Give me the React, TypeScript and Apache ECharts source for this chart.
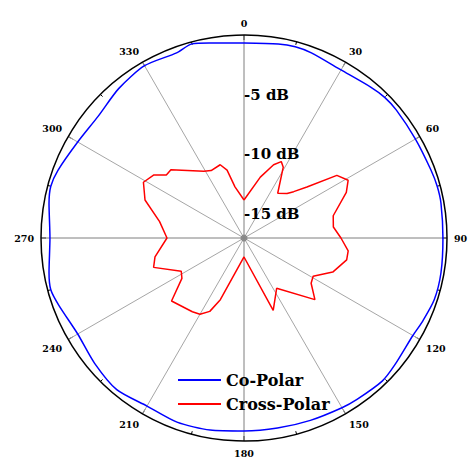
import React, { useEffect, useRef } from "react";
import * as echarts from "echarts";

// Radiation pattern, angle in degrees (clockwise from top), level in dB
const coPolarAngles = [
  0, 10, 15, 20, 30, 40, 45, 50, 60, 70, 75, 80, 90, 100, 108, 115, 120, 130, 136, 145, 150,
  160, 170, 180, 190, 200, 210, 220, 230, 240, 250, 255, 260, 270, 280, 285, 290, 300, 310,
  320, 330, 340, 345, 350, 360,
];
const coPolarDb = [
  -0.67, -0.5, -0.42, -0.5, -0.75, -0.5, -0.34, -0.34, -0.42, -0.34, -0.25, -0.25, -0.34,
  -0.25, -0.25, -0.5, -0.67, -0.5, -0.34, -0.5, -0.59, -0.75, -0.84, -0.84, -0.67, -0.59,
  -0.75, -0.42, -0.67, -0.92, -0.5, -0.25, -0.42, -0.75, -0.42, -0.25, -0.42, -0.92, -1.09,
  -0.67, -0.34, -0.5, -0.17, -0.42, -0.67,
];

const crossPolarAngles = [
  0, 15, 22, 26, 29, 37, 44, 47, 51, 56, 61, 66, 76, 83, 90, 97, 102, 111, 119, 124, 131, 147,
  158, 180, 201, 205, 210, 215, 229, 237, 242, 252, 258, 270, 281, 291, 299, 305, 309, 313,
  329, 334, 342, 346, 350, 360,
];
const crossPolarDb = [
  -13.82, -11.72, -10.38, -9.88, -10.22, -12.31, -11.81, -11.31, -10.22, -7.62, -7.03, -7.62,
  -9.3, -9.46, -8.88, -8.21, -8.21, -9.04, -10.38, -10.22, -9.13, -11.98, -10.47, -15.41,
  -11.47, -10.22, -9.63, -9.46, -8.96, -10.8, -11.05, -9.04, -9.38, -10.55, -9.8, -8.12,
  -7.37, -7.79, -8.63, -8.63, -10.47, -10.72, -10.55, -11.14, -12.65, -13.82,
];

// Radial scale and the levels that get a label
const radiusMin = -17;
const radiusMax = 0;
const radiusLabels = [-5, -10, -15];

const serif = "DejaVu Serif";

export default function App() {
  const ref = useRef<HTMLDivElement>(null);

  useEffect(() => {
    if (!ref.current) return;
    const chart = echarts.init(ref.current, undefined, { renderer: "svg" });

    const pairs = (angles: number[], values: number[]) =>
      angles.map((a, i) => [values[i], a]);

    chart.setOption({
      animation: false,
      backgroundColor: "#ffffff",
      polar: { center: [244, 238], radius: 203 },
      angleAxis: {
        type: "value",
        min: 0,
        max: 360,
        interval: 30,
        startAngle: 90,
        clockwise: true,
        axisLine: { lineStyle: { color: "#000000", width: 1.5 } },
        axisTick: { show: true, inside: true, length: 5, lineStyle: { color: "#000000" } },
        minorTick: { show: true, splitNumber: 2, length: 3, lineStyle: { color: "#000000" } },
        axisLabel: {
          margin: 7,
          color: "#000000",
          fontFamily: serif,
          fontWeight: "bold",
          fontSize: 9.5,
        },
        splitLine: {
          show: true,
          lineStyle: { color: ["#7f7f7f", "#a6a6a6", "#a6a6a6"], width: 1 },
        },
      },
      radiusAxis: {
        type: "value",
        min: radiusMin,
        max: radiusMax,
        interval: 1,
        axisLine: { show: false },
        axisTick: { show: false },
        splitLine: { show: false },
        axisLabel: {
          color: "#000000",
          fontFamily: serif,
          fontWeight: "bold",
          fontSize: 15,
          align: "left",
          margin: 0,
          formatter: (v: number) => (radiusLabels.includes(v) ? `${v} dB` : ""),
        },
      },
      legend: {
        data: ["Co-Polar", "Cross-Polar"],
        orient: "vertical",
        left: 172,
        top: 367,
        itemWidth: 43,
        itemHeight: 14,
        itemGap: 8,
        itemStyle: { opacity: 0 },
        textStyle: { color: "#000000", fontFamily: serif, fontWeight: "bold", fontSize: 16 },
      },
      series: [
        {
          name: "Co-Polar",
          type: "line",
          coordinateSystem: "polar",
          symbol: "none",
          smooth: 0.25,
          lineStyle: { color: "#0000ff", width: 1.5 },
          itemStyle: { color: "#0000ff" },
          data: pairs(coPolarAngles, coPolarDb),
        },
        {
          name: "Cross-Polar",
          type: "line",
          coordinateSystem: "polar",
          symbol: "none",
          lineStyle: { color: "#ff0000", width: 1.5 },
          itemStyle: { color: "#ff0000" },
          data: pairs(crossPolarAngles, crossPolarDb),
        },
        {
          name: "origin",
          type: "scatter",
          coordinateSystem: "polar",
          silent: true,
          symbolSize: 7,
          itemStyle: { color: "#808080" },
          data: [[radiusMin, 0]],
        },
      ],
    });

    return () => chart.dispose();
  }, []);

  return (
    <div
      ref={ref}
      style={{ position: "absolute", left: 0, top: 0, width: 468, height: 464 }}
    />
  );
}
